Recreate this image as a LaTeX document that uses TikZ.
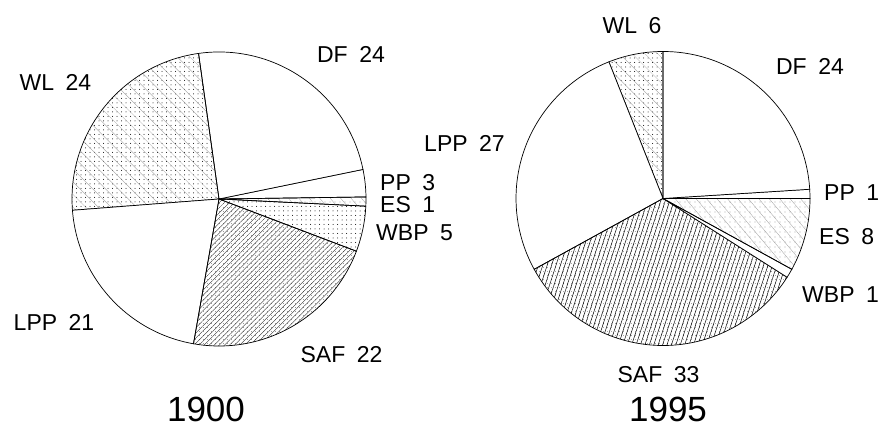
\documentclass[tikz,border=0pt]{standalone}
\usepackage{fontspec}
\setmainfont{Liberation Sans}
\usetikzlibrary{patterns.meta}

\tikzset{
    wedge/.style = {draw=black, line width=0.7pt},
    dotfill/.style = {pattern={Dots[distance=4.5pt,radius=0.5pt]}, pattern color=black},
    wlfill/.style = {preaction={pattern={Dots[distance=4.5pt,radius=0.5pt]}, pattern color=black},
                     pattern={Lines[angle=-45,distance=9pt,line width=0.3pt]}, pattern color=black!40},
    esfill/.style = {preaction={pattern={Dots[distance=5pt,radius=0.45pt]}, pattern color=black!85},
                     pattern={Lines[angle=-50,distance=8pt,line width=0.3pt]}, pattern color=black!40},
    safold/.style = {preaction={pattern={Dots[distance=4pt,radius=0.45pt]}, pattern color=black!70},
                     pattern={Lines[angle=45,distance=3.6pt,line width=0.35pt]}, pattern color=black!85},
    safnew/.style = {preaction={pattern={Dots[distance=4pt,radius=0.45pt]}, pattern color=black!60},
                     pattern={Lines[angle=72,distance=4.2pt,line width=0.5pt]}, pattern color=black},
    lbl/.style = {inner sep=0pt, font=\fontsize{23}{23}\selectfont},
    yearlbl/.style = {inner sep=0pt, font=\fontsize{35}{35}\selectfont}
}

\begin{document}
\begin{tikzpicture}[x=1pt, y=1pt]
    \useasboundingbox (0,0) rectangle (882,427);

    % 1900
    \begin{scope}[name prefix = old-]
        \coordinate (c) at (219,228);
        \filldraw[wedge, fill=white] (c) -- ++(0.8:147) arc[start angle=0.8, end angle=11.6, radius=147] -- cycle;
        \filldraw[wedge, fill=white] (c) -- ++(11.6:147) arc[start angle=11.6, end angle=98, radius=147] -- cycle;
        \filldraw[wedge, wlfill] (c) -- ++(98:147) arc[start angle=98, end angle=184.4, radius=147] -- cycle;
        \filldraw[wedge, fill=white] (c) -- ++(184.4:147) arc[start angle=184.4, end angle=260, radius=147] -- cycle;
        \filldraw[wedge, safold] (c) -- ++(260:147) arc[start angle=260, end angle=339.2, radius=147] -- cycle;
        \filldraw[wedge, dotfill] (c) -- ++(339.2:147) arc[start angle=339.2, end angle=357.2, radius=147] -- cycle;
        \filldraw[wedge, esfill] (c) -- ++(357.2:147) arc[start angle=357.2, end angle=360.8, radius=147] -- cycle;

        \node[lbl] (df) at (351,373) {DF\enspace 24};
        \node[lbl] (wl) at (55.5,345) {WL\enspace 24};
        \node[lbl, anchor=west] (pp) at (380,244) {PP\enspace 3};
        \node[lbl, anchor=west] (es) at (380,222) {ES\enspace 1};
        \node[lbl, anchor=west] (wbp) at (376,194) {WBP\enspace 5};
        \node[lbl] (lpp) at (54,105) {LPP\enspace 21};
        \node[lbl] (saf) at (341.5,72) {SAF\enspace 22};
        \node[yearlbl] (year) at (206,18) {1900};
    \end{scope}

    % 1995
    \begin{scope}[name prefix = new-]
        \coordinate (c) at (663,228.5);
        \filldraw[wedge, fill=white] (c) -- ++(0:147) arc[start angle=0, end angle=3.6, radius=147] -- cycle;
        \filldraw[wedge, fill=white] (c) -- ++(3.6:147) arc[start angle=3.6, end angle=90, radius=147] -- cycle;
        \filldraw[wedge, wlfill] (c) -- ++(90:147) arc[start angle=90, end angle=111.6, radius=147] -- cycle;
        \filldraw[wedge, fill=white] (c) -- ++(111.6:147) arc[start angle=111.6, end angle=208.8, radius=147] -- cycle;
        \filldraw[wedge, safnew] (c) -- ++(208.8:147) arc[start angle=208.8, end angle=327.6, radius=147] -- cycle;
        \filldraw[wedge, fill=white] (c) -- ++(327.6:147) arc[start angle=327.6, end angle=331.2, radius=147] -- cycle;
        \filldraw[wedge, esfill] (c) -- ++(331.2:147) arc[start angle=331.2, end angle=360, radius=147] -- cycle;

        \node[lbl] (wl) at (632,401) {WL\enspace 6};
        \node[lbl] (df) at (810,361) {DF\enspace 24};
        \node[lbl] (lpp) at (464.5,284) {LPP\enspace 27};
        \node[lbl, anchor=west] (pp) at (824,234) {PP\enspace 1};
        \node[lbl, anchor=west] (es) at (819,190) {ES\enspace 8};
        \node[lbl, anchor=west] (wbp) at (802,132) {WBP\enspace 1};
        \node[lbl] (saf) at (658.5,52) {SAF\enspace 33};
        \node[yearlbl] (year) at (668,18) {1995};
    \end{scope}
\end{tikzpicture}
\end{document}
